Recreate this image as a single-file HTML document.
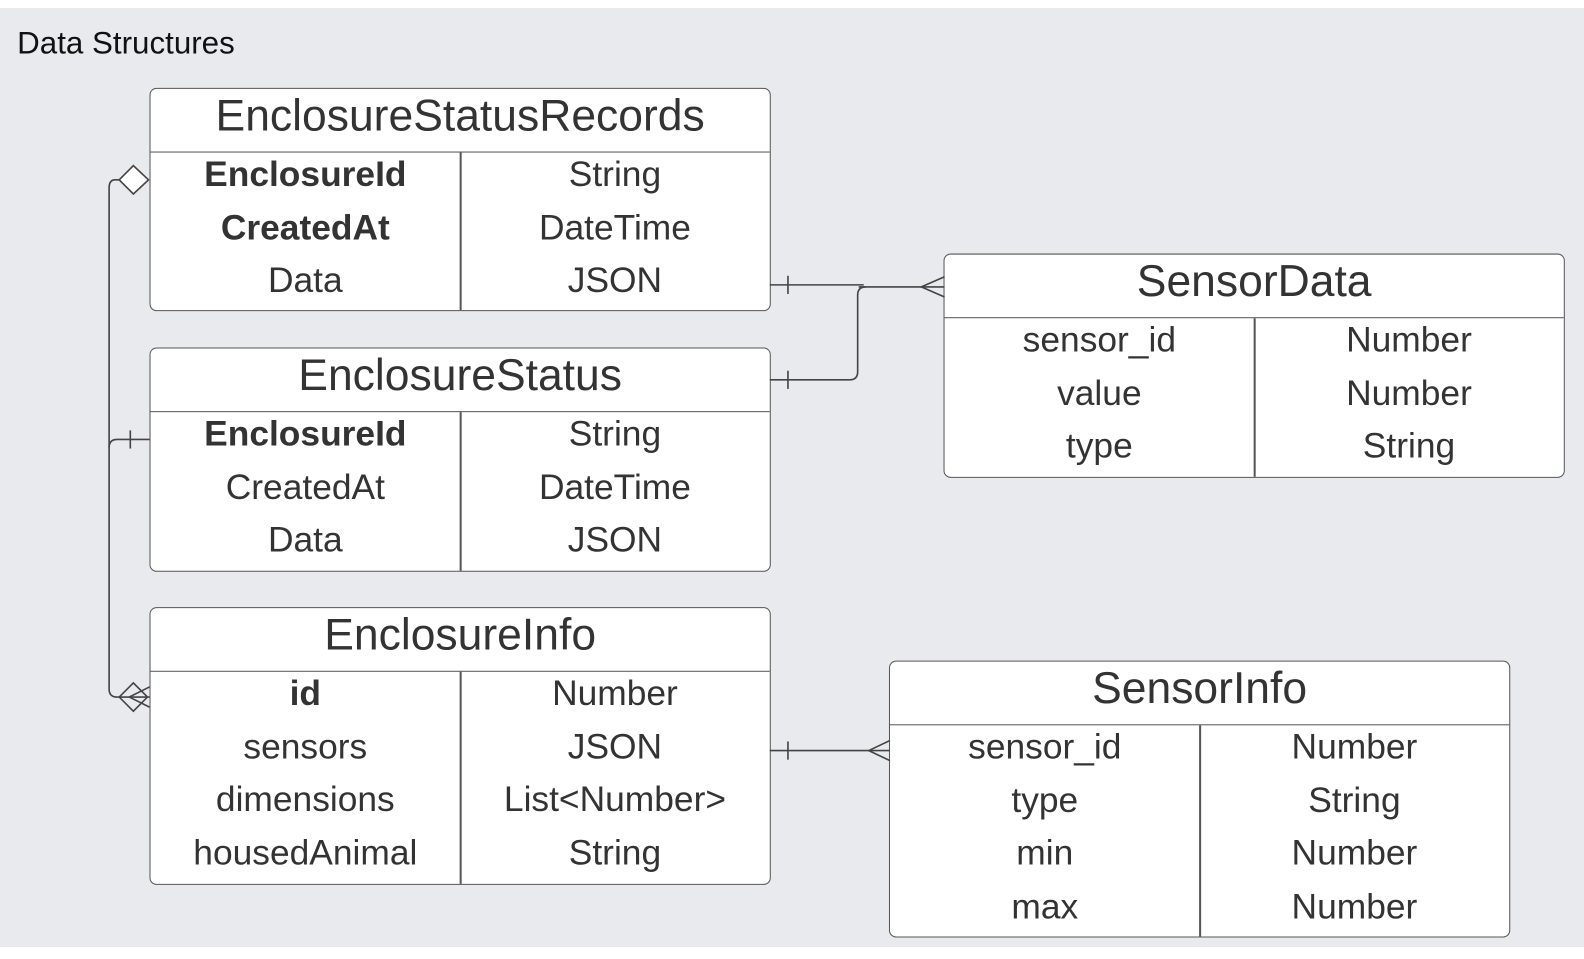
<!DOCTYPE html>
<html><head><style>
body{margin:0;width:1584px;height:949px;background:#fff;position:relative;overflow:hidden;font-family:"Liberation Sans",sans-serif;}
.bg{position:absolute;left:0;top:8px;width:1584px;height:939px;background:#e9eaee;}
.w{position:absolute;left:0;top:0;width:1584px;height:949px;transform:scale(1.0102);transform-origin:0 0;}
.t{position:absolute;background:#fff;border:1.5px solid #555;border-radius:7px;box-sizing:border-box;color:#333;}
.h{height:63px;border-bottom:1.5px solid #555;box-sizing:border-box;text-align:center;font-size:44px;line-height:54px;}
.r{display:flex;height:52.5px;font-size:35px;line-height:44px;}
.r div{flex:1;text-align:center;}
.v{position:absolute;top:63px;bottom:0;width:1.5px;background:#555;}
b{font-weight:bold;}
</style></head><body>
<div class="bg"></div>
<div class="w">
<div style="position:absolute;left:17px;top:25px;font-size:31px;color:#111;">Data Structures</div>

<div class="t" style="left:148px;top:87px;width:615px;height:221px;">
<div class="h">EnclosureStatusRecords</div><div class="v" style="left:306px"></div>
<div class="r"><div><b>EnclosureId</b></div><div>String</div></div>
<div class="r"><div><b>CreatedAt</b></div><div>DateTime</div></div>
<div class="r"><div>Data</div><div>JSON</div></div></div>

<div class="t" style="left:148px;top:344px;width:615px;height:222px;">
<div class="h">EnclosureStatus</div><div class="v" style="left:306px"></div>
<div class="r"><div><b>EnclosureId</b></div><div>String</div></div>
<div class="r"><div>CreatedAt</div><div>DateTime</div></div>
<div class="r"><div>Data</div><div>JSON</div></div></div>

<div class="t" style="left:148px;top:601px;width:615px;height:275px;">
<div class="h">EnclosureInfo</div><div class="v" style="left:306px"></div>
<div class="r"><div><b>id</b></div><div>Number</div></div>
<div class="r"><div>sensors</div><div>JSON</div></div>
<div class="r"><div>dimensions</div><div>List&lt;Number&gt;</div></div>
<div class="r"><div>housedAnimal</div><div>String</div></div></div>

<div class="t" style="left:934px;top:251px;width:615px;height:222px;">
<div class="h">SensorData</div><div class="v" style="left:306px"></div>
<div class="r"><div>sensor_id</div><div>Number</div></div>
<div class="r"><div>value</div><div>Number</div></div>
<div class="r"><div>type</div><div>String</div></div></div>

<div class="t" style="left:880px;top:654px;width:615px;height:274px;">
<div class="h">SensorInfo</div><div class="v" style="left:306px"></div>
<div class="r"><div>sensor_id</div><div>Number</div></div>
<div class="r"><div>type</div><div>String</div></div>
<div class="r"><div>min</div><div>Number</div></div>
<div class="r"><div>max</div><div>Number</div></div></div>

<svg width="1584" height="949" style="position:absolute;left:0;top:0" fill="none" stroke="#444" stroke-width="1.6">
<path d="M118 178 H114 Q108 178 108 186 V682 Q108 690 116 690 H148"/>
<path d="M118 178 L132 164 L147 178 L132 192 Z" fill="#fff"/>
<path d="M118 690 L132 676 L146 690 L132 704 Z"/>
<path d="M148 680 L128 690 L148 700"/>
<path d="M148 435 H116 Q108 435 108 443"/>
<path d="M129 426 V444"/>
<path d="M762 282 H855 M850 284 H935"/>
<path d="M780 273 V291"/>
<path d="M762 376 H841 Q849 376 849 368 V292 Q849 284 857 284"/>
<path d="M780 367 V385"/>
<path d="M935 274 L912 284 L935 294"/>
<path d="M762 743 H881"/>
<path d="M780 734 V752"/>
<path d="M881 733 L860 743 L881 753"/>
</svg>
</div>
</body></html>
